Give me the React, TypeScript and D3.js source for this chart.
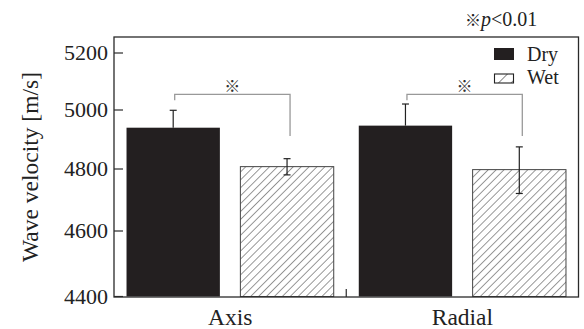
import React from 'react';
import * as d3 from 'd3';

const groups = ['Axis', 'Radial'];
const series = ['Dry', 'Wet'];
const dryMeans = [4940, 4947];
const dryErrors = [59, 74];
const wetMeans = [4808, 4798];
const wetErrors = [27, 77];
const yTicks = [4400, 4600, 4800, 5000, 5200];
const sigLevel = [5055, 5055];
const sigEnd = [4912, 4912];
const sigLabel = '※';
const noteText = 'p';

const W = 584, H = 329;
const M = { left: 114, right: 5.5, top: 37, bottom: 32 };
const FONT = '"Liberation Serif", "Times New Roman", "Noto Sans CJK JP", serif';

export default function App() {
  const x0 = d3.scaleBand<string>().domain(groups).range([M.left, W - M.right]).padding(0);
  const x1 = d3.scaleBand<string>().domain(series).range([0, x0.bandwidth()]).paddingInner(0.18).paddingOuter(0.11);
  // the printed axis is slightly non-uniform; map each tick to its printed position
  const y = d3.scaleLinear().domain(yTicks).range([296.5, 231, 169, 110, 53]);
  const bottom = 297;
  const frameColor = '#2a2a2a';
  const barBlack = '#231f20';
  const means = [dryMeans, wetMeans];
  const errs = [dryErrors, wetErrors];

  return (
    <svg width={W} height={H} style={{ position: 'absolute', left: 0, top: 0, background: '#fff' }} fontFamily={FONT}>
      <defs>
        <pattern id="hatch" patternUnits="userSpaceOnUse" width={5.6} height={5.6} patternTransform="rotate(45)">
          <rect width={5.6} height={5.6} fill="#fff" />
          <line x1={0} y1={0} x2={0} y2={5.6} stroke="#333" strokeWidth={1} />
        </pattern>
        <pattern id="hatchL" patternUnits="userSpaceOnUse" width={9} height={9} patternTransform="translate(494,74) rotate(45)">
          <rect width={9} height={9} fill="#fff" />
          <line x1={0} y1={0} x2={0} y2={9} stroke="#222" strokeWidth={1.1} />
        </pattern>
      </defs>

      {/* bars */}
      {groups.map((g, gi) => series.map((s, si) => {
        const bx = (x0(g) as number) + (x1(s) as number);
        const bw = x1.bandwidth();
        const v = means[si][gi];
        return (
          <rect key={g + s} x={bx} y={y(v)} width={bw} height={y(4400) - y(v)}
            fill={si === 0 ? barBlack : 'url(#hatch)'}
            stroke={si === 0 ? barBlack : '#444'} strokeWidth={si === 0 ? 0 : 1} />
        );
      }))}

      {/* error bars */}
      {groups.map((g, gi) => series.map((s, si) => {
        const cx = (x0(g) as number) + (x1(s) as number) + x1.bandwidth() / 2;
        const v = means[si][gi];
        const e = errs[si][gi];
        const lo = si === 0 ? v : v - e;
        return (
          <g key={'e' + g + s} stroke="#222" strokeWidth={1.2}>
            <line x1={cx} x2={cx} y1={y(lo)} y2={y(v + e)} />
            <line x1={cx - 3.5} x2={cx + 3.5} y1={y(v + e)} y2={y(v + e)} />
            {si === 1 && <line x1={cx - 3.5} x2={cx + 3.5} y1={y(v - e)} y2={y(v - e)} />}
          </g>
        );
      }))}

      {/* significance brackets */}
      {groups.map((g, gi) => {
        const xa = (x0(g) as number) + (x1('Dry') as number) + x1.bandwidth() / 2 + 1.5;
        const xb = (x0(g) as number) + (x1('Wet') as number) + x1.bandwidth() / 2 + 3;
        const yl = y(sigLevel[gi]);
        return (
          <g key={'s' + g}>
            <path d={`M${xa},${yl + 6}V${yl}H${xb}V${y(sigEnd[gi])}`} fill="none" stroke="#999" strokeWidth={1.3} />
            <text x={(xa + xb) / 2} y={yl - 2} textAnchor="middle" fontSize={16} fill="#333"
              fontFamily='"Noto Sans CJK JP", sans-serif'>{sigLabel}</text>
          </g>
        );
      })}

      {/* frame */}
      <rect x={M.left} y={M.top} width={W - M.right - M.left} height={bottom - M.top} fill="none" stroke={frameColor} strokeWidth={1.3} />

      {/* y ticks */}
      {yTicks.map(t => (
        <g key={t}>
          <line x1={M.left} x2={M.left + 9} y1={y(t)} y2={y(t)} stroke={frameColor} strokeWidth={1.2} />
          <text x={M.left - 6} y={y(t)} dy="0.34em" textAnchor="end" fontSize={22} fill="#222">{t}</text>
        </g>
      ))}

      {/* x ticks at group boundaries */}
      {groups.slice(1).map(g => (
        <line key={'xt' + g} x1={x0(g) as number} x2={x0(g) as number} y1={bottom} y2={bottom - 8} stroke={frameColor} strokeWidth={1.2} />
      ))}

      {/* x labels */}
      {groups.map(g => (
        <text key={'xl' + g} x={(x0(g) as number) + x0.bandwidth() / 2} y={325} textAnchor="middle" fontSize={23.5} fill="#222">{g}</text>
      ))}

      {/* y title */}
      <text transform={`translate(38,167) rotate(-90)`} textAnchor="middle" fontSize={23.5} fill="#222">Wave velocity [m/s]</text>

      {/* legend */}
      <rect x={494} y={48} width={20} height={12} fill={barBlack} />
      <text x={527} y={61} fontSize={20} fill="#222">{series[0]}</text>
      <rect x={494.5} y={74} width={19} height={9} fill="url(#hatchL)" stroke="#222" strokeWidth={1.1} />
      <text x={527} y={83.5} fontSize={20} fill="#222">{series[1]}</text>

      {/* significance note */}
      <text x={465} y={25.5} fontSize={20} fill="#222">
        <tspan fontFamily='"Noto Sans CJK JP", sans-serif' fontSize={16}>{sigLabel}</tspan>
        <tspan fontStyle="italic">{noteText}</tspan>
        <tspan>&lt;0.01</tspan>
      </text>
    </svg>
  );
}
